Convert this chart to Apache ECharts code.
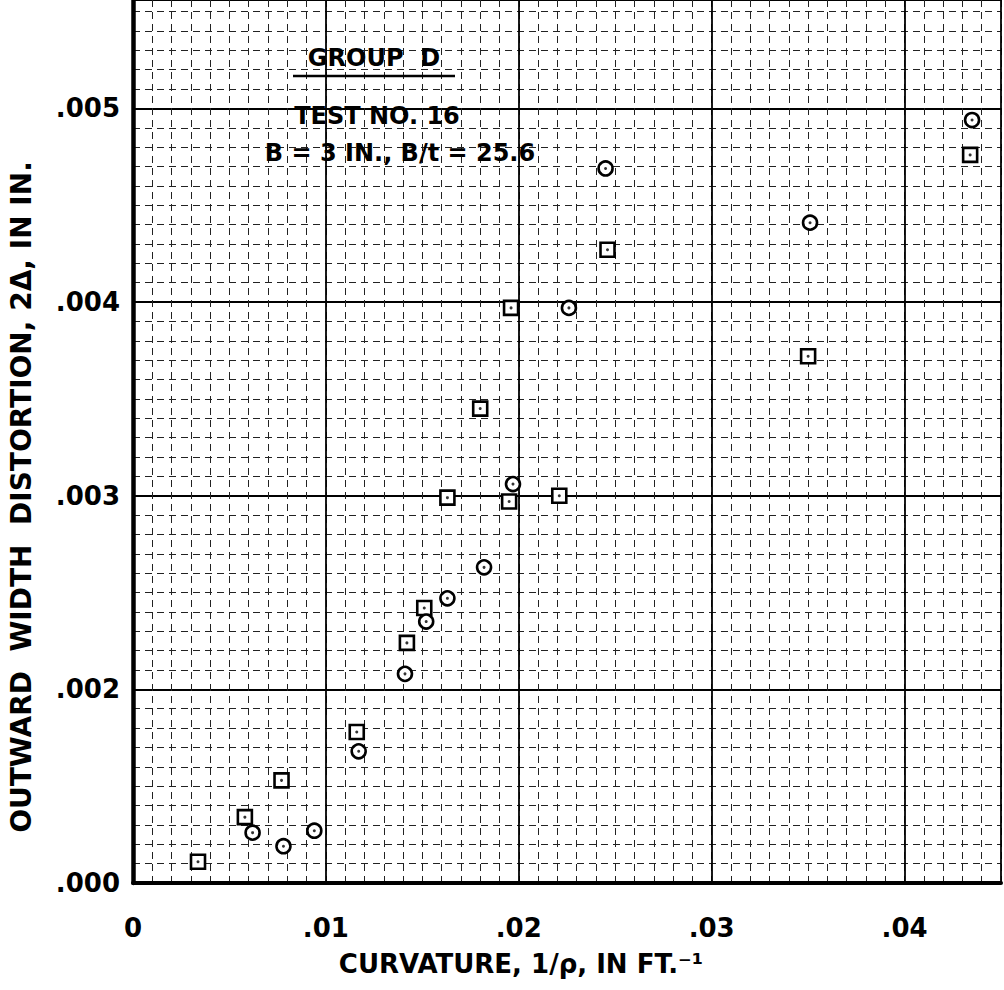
<!DOCTYPE html>
<html>
<head>
<meta charset="utf-8">
<style>
  html, body { margin: 0; padding: 0; background: #fff; }
  #chart { width: 1004px; height: 990px; }
</style>
<script src="https://cdn.jsdelivr.net/npm/echarts@6/dist/echarts.min.js"></script>
</head>
<body>
<div id="chart"></div>
<script>
// ---- data ----
// square markers: [curvature 1/rho (1/ft), outward width distortion 2Δ (in)]
const squarePoints = [
  [0.00337, 0.00111],
  [0.0058, 0.00134],
  [0.0077, 0.00153],
  [0.0116, 0.00178],
  [0.0142, 0.00224],
  [0.0151, 0.00242],
  [0.0163, 0.00299],
  [0.0180, 0.00345],
  [0.0195, 0.00297],
  [0.0196, 0.00397],
  [0.0221, 0.00300],
  [0.0246, 0.00427],
  [0.0350, 0.00372],
  [0.0434, 0.00476]
];
// circle markers
const circlePoints = [
  [0.0062, 0.00126],
  [0.0078, 0.00119],
  [0.0094, 0.00127],
  [0.0117, 0.00168],
  [0.0141, 0.00208],
  [0.0152, 0.00235],
  [0.0163, 0.00247],
  [0.0182, 0.00263],
  [0.0197, 0.00306],
  [0.0226, 0.00397],
  [0.0245, 0.00469],
  [0.0351, 0.00441],
  [0.0435, 0.00494]
];
// tick labels
const xTickValues = [0, 0.01, 0.02, 0.03, 0.04];
const xTickLabels = ['0', '.01', '.02', '.03', '.04'];
const yTickValues = [0.001, 0.002, 0.003, 0.004, 0.005];
const yTickLabels = ['.000', '.002', '.003', '.004', '.005'];
// text
const xAxisTitle = 'CURVATURE, 1/\u03C1, IN FT.\u207B\u00B9';
const yAxisTitle = 'OUTWARD  WIDTH  DISTORTION, 2\u0394, IN IN.';
const noteLines = ['GROUP  D', 'TEST NO. 16', 'B = 3 IN., B/t = 25.6'];

// ---- chart ----
const FONT = 'DejaVu Sans';
function labelFor(values, labels) {
  return function (v) {
    for (let i = 0; i < values.length; i++) {
      if (Math.abs(v - values[i]) < 1e-9) return labels[i];
    }
    return '';
  };
}
const minorLine = { show: true, lineStyle: { color: '#222', width: 1, type: [7, 5] } };
const majorLine = { show: true, lineStyle: { color: '#000', width: 1.8, type: 'solid' } };

const chart = echarts.init(document.getElementById('chart'), null, { renderer: 'svg' });
chart.setOption({
  animation: false,
  backgroundColor: '#fff',
  grid: { left: 133, right: 0, top: 0, bottom: 107, containLabel: false },
  xAxis: [
    {
      type: 'value', position: 'bottom', min: 0, max: 0.045, interval: 0.001,
      axisLine: { show: false }, axisTick: { show: false }, axisLabel: { show: false },
      splitLine: minorLine
    },
    {
      type: 'value', position: 'bottom', min: 0, max: 0.045, interval: 0.01,
      axisLine: { show: true, onZero: false, lineStyle: { color: '#000', width: 4 } },
      axisTick: { show: false },
      axisLabel: {
        show: true, margin: 32, color: '#000', fontSize: 26, fontWeight: 'bold', fontFamily: FONT,
        formatter: labelFor(xTickValues, xTickLabels)
      },
      splitLine: majorLine
    }
  ],
  yAxis: [
    {
      type: 'value', position: 'left', min: 0.001, max: 0.00556, interval: 0.0001,
      axisLine: { show: false }, axisTick: { show: false }, axisLabel: { show: false },
      splitLine: minorLine
    },
    {
      type: 'value', position: 'left', min: 0.001, max: 0.00556, interval: 0.001,
      axisLine: { show: true, onZero: false, lineStyle: { color: '#000', width: 4.5 } },
      axisTick: { show: false },
      axisLabel: {
        show: true, margin: 13, color: '#000', fontSize: 26, fontWeight: 'bold', fontFamily: FONT,
        formatter: labelFor(yTickValues, yTickLabels)
      },
      splitLine: majorLine
    }
  ],
  series: [
    {
      name: 'square', type: 'scatter', xAxisIndex: 1, yAxisIndex: 1,
      symbol: 'rect', symbolSize: 14, data: squarePoints, z: 5,
      itemStyle: { color: '#fff', borderColor: '#000', borderWidth: 2.6, opacity: 1 }
    },
    {
      name: 'circle', type: 'scatter', xAxisIndex: 1, yAxisIndex: 1,
      symbol: 'circle', symbolSize: 14, data: circlePoints, z: 5,
      itemStyle: { color: '#fff', borderColor: '#000', borderWidth: 2.6, opacity: 1 }
    },
    {
      name: 'squareDot', type: 'scatter', xAxisIndex: 1, yAxisIndex: 1,
      symbol: 'circle', symbolSize: 3, data: squarePoints, z: 6, silent: true,
      itemStyle: { color: '#000' }
    },
    {
      name: 'circleDot', type: 'scatter', xAxisIndex: 1, yAxisIndex: 1,
      symbol: 'circle', symbolSize: 3, data: circlePoints, z: 6, silent: true,
      itemStyle: { color: '#000' }
    }
  ],
  graphic: [
    {
      type: 'text', z: 10, x: 374, y: 58,
      style: { text: noteLines[0], font: 'bold 24px "DejaVu Sans"', fill: '#000', align: 'center', verticalAlign: 'middle' }
    },
    {
      type: 'line', z: 10,
      shape: { x1: 293, y1: 76, x2: 455, y2: 76 },
      style: { stroke: '#000', lineWidth: 2.5 }
    },
    {
      type: 'text', z: 10, x: 377, y: 116,
      style: { text: noteLines[1], font: 'bold 24px "DejaVu Sans"', fill: '#000', align: 'center', verticalAlign: 'middle' }
    },
    {
      type: 'text', z: 10, x: 400, y: 153,
      style: { text: noteLines[2], font: 'bold 24px "DejaVu Sans"', fill: '#000', align: 'center', verticalAlign: 'middle' }
    },
    {
      type: 'text', z: 10, x: 521, y: 964,
      style: { text: xAxisTitle, font: 'bold 26px "DejaVu Sans"', fill: '#000', align: 'center', verticalAlign: 'middle' }
    },
    {
      type: 'text', z: 10, x: 21, y: 497, rotation: Math.PI / 2,
      style: { text: yAxisTitle, font: 'bold 28px "DejaVu Sans"', fill: '#000', align: 'center', verticalAlign: 'middle' }
    }
  ]
});
</script>
</body>
</html>
